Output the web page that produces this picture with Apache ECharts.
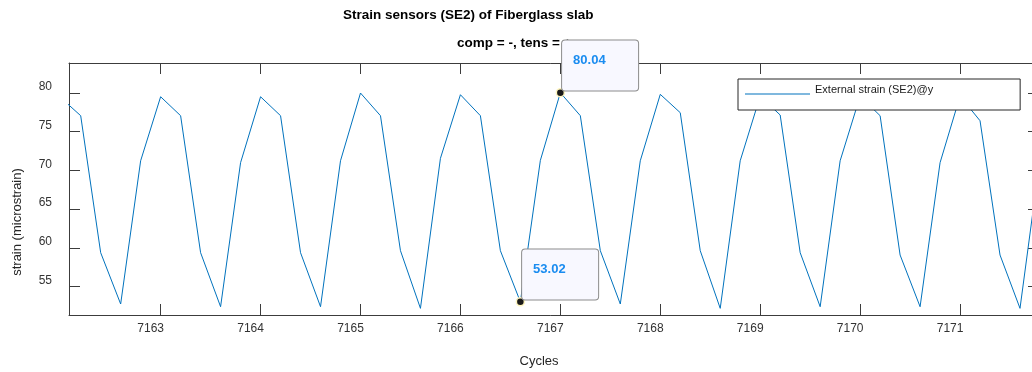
<!DOCTYPE html>
<html>
<head>
<meta charset="utf-8">
<script src="https://cdn.jsdelivr.net/npm/echarts@6/dist/echarts.min.js"></script>
<style>
  html, body { margin: 0; padding: 0; background: #fff; }
  #chart { width: 1032px; height: 372px; }
</style>
</head>
<body>
<div id="chart"></div>
<script>
// sample positions (cycles) and strain
const cycles = [
  7162.0, 7162.2, 7162.4, 7162.6, 7162.8,
  7163.0, 7163.2, 7163.4, 7163.6, 7163.8,
  7164.0, 7164.2, 7164.4, 7164.6, 7164.8,
  7165.0, 7165.2, 7165.4, 7165.6, 7165.8,
  7166.0, 7166.2, 7166.4, 7166.6, 7166.8,
  7167.0, 7167.2, 7167.4, 7167.6, 7167.8,
  7168.0, 7168.2, 7168.4, 7168.6, 7168.8,
  7169.0, 7169.2, 7169.4, 7169.6, 7169.8,
  7170.0, 7170.2, 7170.4, 7170.6, 7170.8,
  7171.0, 7171.2, 7171.4, 7171.6, 7171.8
]
const strain = [
  79.40, 77.07, 59.37, 52.74, 71.25,
  79.52, 77.07, 59.37, 52.39, 71.00,
  79.52, 77.07, 59.37, 52.39, 71.25,
  80.00, 77.07, 59.63, 52.18, 71.56,
  79.78, 77.07, 59.63, 53.02, 71.30,
  80.04, 77.07, 59.63, 52.74, 71.25,
  79.83, 77.46, 59.63, 52.18, 71.25,
  79.60, 77.16, 59.37, 52.39, 71.25,
  79.60, 77.07, 59.07, 52.39, 71.00,
  79.60, 76.42, 59.07, 52.18, 71.50
]
const xTicks = [7163, 7164, 7165, 7166, 7167, 7168, 7169, 7170, 7171]
const yTicks = [55, 60, 65, 70, 75, 80]
// data tips placed on these samples
const tipCycles = [7167.0, 7166.6]

const font = 'Liberation Sans, Arial, Helvetica, sans-serif'
const axisColor = '#3c3c3c'

let myChart = echarts.init(document.getElementById('chart'))

const seriesData = cycles.map((c, i) => [c, strain[i]])
const tips = tipCycles.map(c => {
  const i = cycles.indexOf(c)
  return { coord: [cycles[i], strain[i]], value: strain[i] }
})

const baseX = {
  type: 'value',
  min: 7162.083,
  max: 7171.79,
  splitLine: { show: false },
  axisLine: { show: true, onZero: false, lineStyle: { color: axisColor, width: 1 } },
  axisTick: { show: true, inside: true, length: 11, customValues: xTicks, lineStyle: { color: axisColor } }
}
const baseY = {
  type: 'value',
  min: 51.32,
  max: 83.88,
  splitLine: { show: false },
  axisLine: { show: true, onZero: false, lineStyle: { color: axisColor, width: 1 } },
  axisTick: { show: true, inside: true, length: 11, customValues: yTicks, lineStyle: { color: axisColor } }
}

let option = {
  animation: false,
  backgroundColor: '#fff',
  title: [
    {
      text: 'Strain sensors (SE2) of Fiberglass slab',
      left: 343, top: 8, padding: 0, z: 1,
      textStyle: { fontFamily: font, fontSize: 13.5, fontWeight: 'bold', color: '#000' }
    },
    {
      text: 'comp = -, tens = +',
      left: 457, top: 36, padding: 0, z: 1,
      textStyle: { fontFamily: font, fontSize: 13.5, fontWeight: 'bold', color: '#000' }
    }
  ],
  grid: { left: 69, top: 63, width: 970, height: 252, containLabel: false, outerBoundsMode: 'none' },
  legend: {
    left: 738, top: 79,
    padding: [5.5, 87, 14.5, 7],
    // thin line drawn near the bottom of the icon box, text sits a little higher
    icon: 'path://M0,0 L0.01,0 L0.01,0.01 Z M0,8 L65,8 L65,9 L0,9 Z',
    itemWidth: 65, itemHeight: 9,
    backgroundColor: '#fff',
    borderColor: '#262626', borderWidth: 1, borderRadius: 0,
    textStyle: { fontFamily: font, fontSize: 11, color: '#1a1a1a' },
    data: ['External strain (SE2)@y']
  },
  xAxis: [
    Object.assign({}, baseX, {
      position: 'bottom',
      axisLabel: {
        show: true, customValues: xTicks, margin: 8,
        padding: [0, 20, 0, 0],
        formatter: v => String(v),
        fontFamily: font, fontSize: 12, color: '#333'
      }
    }),
    Object.assign({}, baseX, { position: 'top', axisLabel: { show: false } })
  ],
  yAxis: [
    Object.assign({}, baseY, {
      position: 'left',
      axisLabel: {
        show: true, customValues: yTicks, margin: 17,
        verticalAlign: 'bottom', lineHeight: 12,
        fontFamily: font, fontSize: 12, color: '#333'
      }
    }),
    Object.assign({}, baseY, { position: 'right', axisLabel: { show: false } })
  ],
  graphic: [
    {
      type: 'text', x: 539, y: 361,
      style: { text: 'Cycles', align: 'center', verticalAlign: 'middle', font: '13px ' + font, fill: '#262626' }
    },
    {
      type: 'text', x: 17, y: 222, rotation: Math.PI / 2,
      style: { text: 'strain (microstrain)', align: 'center', verticalAlign: 'middle', font: '13px ' + font, fill: '#262626' }
    }
  ],
  series: [
    {
      name: 'External strain (SE2)@y',
      type: 'line',
      data: seriesData,
      symbol: 'none',
      lineStyle: { color: '#0072bd', width: 1 },
      itemStyle: { color: '#0072bd' },
      markPoint: {
        symbol: 'circle',
        symbolSize: 8,
        itemStyle: { color: '#1a1a1a', borderColor: '#fff6c0', borderWidth: 1.5 },
        label: {
          show: true,
          position: [6.5, 2.5],
          align: 'left',
          verticalAlign: 'bottom',
          formatter: p => p.value.toFixed(2),
          backgroundColor: '#f8f8ff',
          borderColor: '#8c8c8c',
          borderWidth: 1,
          borderRadius: 3,
          width: 65,
          padding: [13, 0, 23, 11],
          lineHeight: 14,
          fontFamily: font,
          fontSize: 13,
          fontWeight: 'bold',
          color: '#1a8cf0'
        },
        data: tips
      }
    }
  ]
}
myChart.setOption(option)
window.addEventListener('resize', function () {
  myChart.resize()
})
</script>
</body>
</html>
